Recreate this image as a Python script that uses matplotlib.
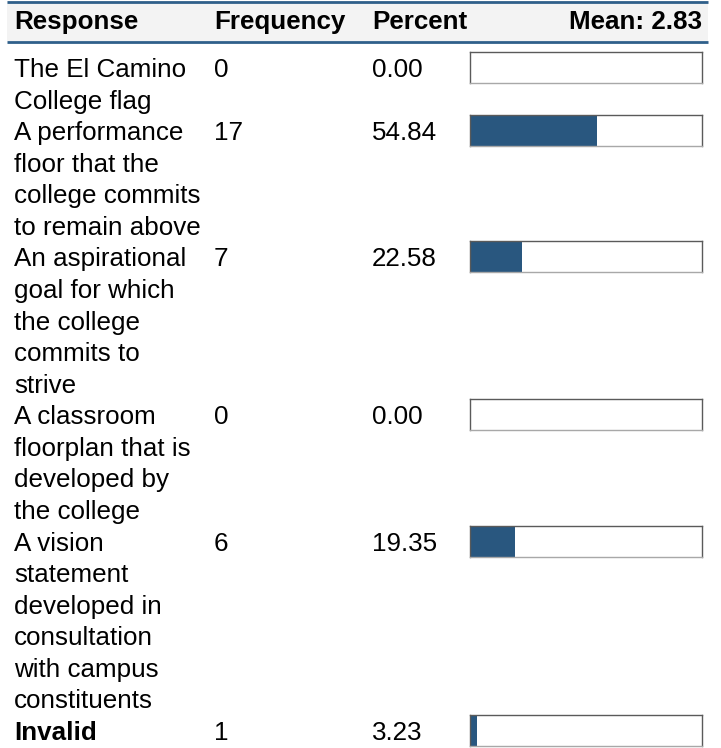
import matplotlib.pyplot as plt
from matplotlib.patches import Rectangle

plt.rcParams['font.family'] = ['Liberation Sans', 'DejaVu Sans']

# -----------------------------
# Data
# -----------------------------
headers = ["Response", "Frequency", "Percent"]
mean_label = "Mean: 2.83"

responses = [
    "The El Camino\nCollege flag",
    "A performance\nfloor that the\ncollege commits\nto remain above",
    "An aspirational\ngoal for which\nthe college\ncommits to\nstrive",
    "A classroom\nfloorplan that is\ndeveloped by\nthe college",
    "A vision\nstatement\ndeveloped in\nconsultation\nwith campus\nconstituents",
    "Invalid",
]
frequency = [0, 17, 7, 0, 6, 1]
percent = [0.00, 54.84, 22.58, 0.00, 19.35, 3.23]
bold_rows = [False, False, False, False, False, True]

# -----------------------------
# Layout (pixels)
# -----------------------------
W, H = 721, 748
col_x = [14, 214, 372]
mean_right = 702
line_h = 31.57
first_base = 77
bar_left, bar_w, bar_h = 470, 232, 31
bar_top0 = 52
fs = 18.7

fill_color = "#29577f"
edge_color = "#5a5a5a"
rule_color = "#2f5f8a"

fig = plt.figure(figsize=(W / 100, H / 100), dpi=100)
ax = fig.add_axes([0, 0, 1, 1])
ax.set_xlim(0, W)
ax.set_ylim(H, 0)
ax.axis("off")

# header band
ax.add_patch(Rectangle((7, 1), 701, 40, facecolor="#f3f3f3", edgecolor="none"))
ax.plot([7, 708], [1.5, 1.5], color=rule_color, lw=2.0, solid_capstyle="butt")
ax.plot([7, 708], [41.5, 41.5], color=rule_color, lw=2.0, solid_capstyle="butt")
for x, h in zip(col_x, headers):
    ax.text(x, 29, h, fontsize=fs, fontweight="bold", va="baseline", ha="left")
ax.text(mean_right, 29, mean_label, fontsize=fs, fontweight="bold", va="baseline", ha="right")

# rows
k = 0
for resp, freq, pct, bold in zip(responses, frequency, percent, bold_rows):
    base = first_base + k * line_h
    lines = resp.split("\n")
    for j, ln in enumerate(lines):
        ax.text(col_x[0], base + j * line_h, ln, fontsize=fs,
                fontweight="bold" if bold else "normal", va="baseline", ha="left")
    ax.text(col_x[1], base, str(freq), fontsize=fs, va="baseline", ha="left")
    ax.text(col_x[2], base, f"{pct:.2f}", fontsize=fs, va="baseline", ha="left")

    top = bar_top0 + k * line_h
    bax = fig.add_axes([bar_left / W, 1 - (top + bar_h) / H, bar_w / W, bar_h / H])
    bax.barh(0, pct, height=1, color=fill_color, edgecolor="none")
    bax.set_xlim(0, 100)
    bax.set_ylim(-0.5, 0.5)
    bax.set_xticks([])
    bax.set_yticks([])
    for side, sp in bax.spines.items():
        sp.set_color("#a8a8a8" if side == "bottom" else edge_color)
        sp.set_linewidth(1.0)

    k += len(lines)

fig.savefig("out.png", dpi=100)
